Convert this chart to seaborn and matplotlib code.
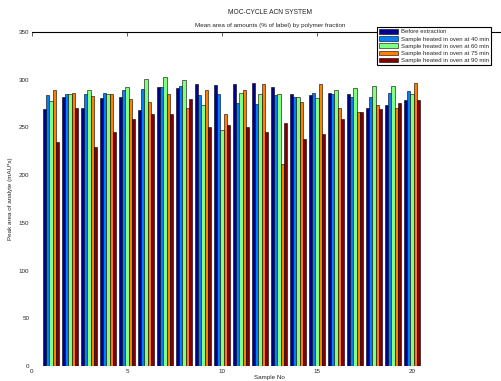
import matplotlib
matplotlib.use("Agg")
import matplotlib.pyplot as plt
import seaborn as sns
import pandas as pd
import numpy as np

# ---- data ----
samples = list(range(1, 21))
series_names = [
    "Before extraction",
    "Sample heated in oven at 40 min",
    "Sample heated in oven at 60 min",
    "Sample heated in oven at 75 min",
    "Sample heated in oven at 90 min",
]
s_blue = [269, 282, 270, 281, 282, 268, 292, 291, 295, 294, 296, 297, 292, 285, 284, 286, 285, 270, 273, 279]
s_lightblue = [284, 285, 285, 286, 289, 290, 292, 293, 284, 285, 276, 275, 284, 282, 286, 285, 282, 282, 286, 288]
s_green = [278, 285, 289, 285, 292, 301, 303, 300, 273, 247, 286, 285, 285, 282, 281, 289, 291, 293, 293, 285]
s_orange = [289, 286, 283, 285, 280, 277, 285, 270, 289, 264, 289, 295, 212, 277, 296, 270, 266, 273, 270, 297]
s_darkred = [235, 270, 230, 245, 259, 264, 264, 280, 250, 253, 250, 245, 255, 238, 243, 259, 266, 269, 276, 279]
colors = ["#00008f", "#0080ff", "#80ff80", "#ff8000", "#800000"]
title_line1 = "MOC-CYCLE ACN SYSTEM"
title_line2 = "Mean area of amounts (% of label) by polymer fraction"
xlabel = "Sample No"
ylabel = "Peak area of analyte (mAU*s)"
xticks = [0, 5, 10, 15, 20]
yticks = [0, 50, 100, 150, 200, 250, 300, 350]

all_series = [s_blue, s_lightblue, s_green, s_orange, s_darkred]
rows = []
for name, vals in zip(series_names, all_series):
    for s, v in zip(samples, vals):
        rows.append({"sample": s, "value": v, "series": name})
df = pd.DataFrame(rows)

sns.set_style("white")
plt.rcParams["font.family"] = ["Liberation Sans", "DejaVu Sans"]

fig = plt.figure(figsize=(5.02, 3.81), dpi=100)
W, H = 502, 381
ax = fig.add_axes([32 / W, (H - 366) / H, 475 / W, 334 / H])

sns.barplot(data=df, x="sample", y="value", hue="series", hue_order=series_names,
            palette=colors, native_scale=True, width=0.85, saturation=1,
            edgecolor="black", linewidth=0.4, ax=ax, errorbar=None)

ax.set_xlim(0, 25)
ax.set_ylim(0, 350)
ax.set_xticks(xticks)
ax.set_yticks(yticks)
ax.set_xticklabels([str(t) for t in xticks], fontsize=4.5)
ax.set_yticklabels([str(t) for t in yticks], fontsize=4.5)
ax.tick_params(direction="in", length=3, width=0.5, pad=2, top=True, right=False)
for side in ["left", "bottom", "right"]:
    ax.spines[side].set_visible(False)
ax.spines["top"].set_linewidth(0.8)
ax.spines["top"].set_color("black")

ax.set_xlabel(xlabel, fontsize=4.5, labelpad=1)
ax.set_ylabel(ylabel, fontsize=4.5, labelpad=4)

fig.text(270 / W, 1 - 13 / H, title_line1, ha="center", va="center", fontsize=4.8)
fig.text(270 / W, 1 - 25 / H, title_line2, ha="center", va="center", fontsize=4.5)

handles, labels = ax.get_legend_handles_labels()
leg = ax.legend(handles, labels, loc="upper left",
                bbox_to_anchor=(377 / W, 1 - 27 / H), bbox_transform=fig.transFigure,
                fontsize=4.3, handlelength=3.2, handleheight=0.8, labelspacing=0.3,
                handletextpad=0.4, borderpad=0.35, borderaxespad=0, frameon=True,
                fancybox=False, framealpha=1)
leg.get_frame().set_edgecolor("black")
leg.get_frame().set_linewidth(0.8)

fig.savefig("out.png", dpi=100)
